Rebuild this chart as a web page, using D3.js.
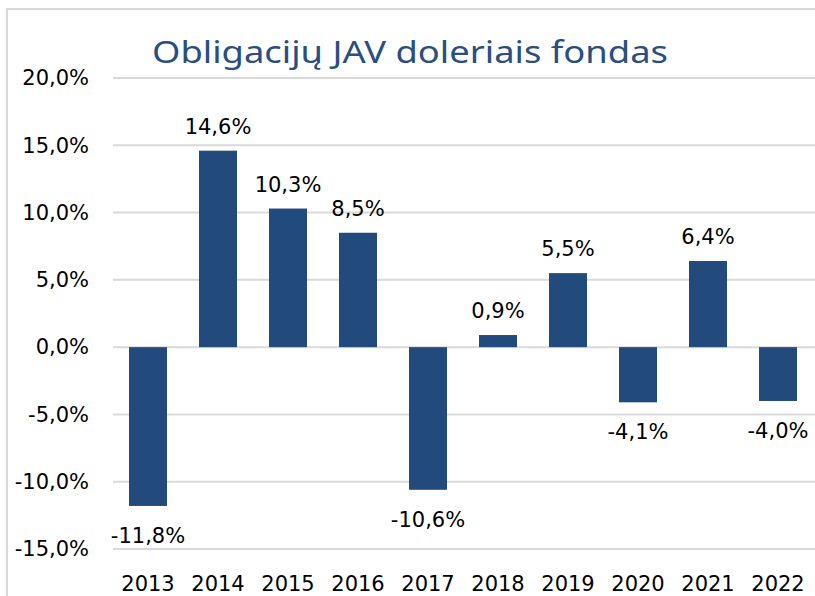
<!DOCTYPE html>
<html>
<head>
<meta charset="utf-8">
<script src="https://cdn.jsdelivr.net/npm/d3@7"></script>
<style>
  body { margin: 0; background: #fff; }
  svg { display: block; }
</style>
</head>
<body>
<script>
const w = 815, h = 596;

const years = ['2013','2014','2015','2016','2017','2018','2019','2020','2021','2022'];
const returns = [-11.8, 14.6, 10.3, 8.5, -10.6, 0.9, 5.5, -4.1, 6.4, -4.0];
const yTicks = [-15, -10, -5, 0, 5, 10, 15, 20];
const title = 'Obligacijų JAV doleriais fondas';

const fmt = (v) => v.toFixed(1).replace('.', ',') + '%';

const svg = d3.select('body').append('svg')
  .attr('width', w)
  .attr('height', h);

// frame of the chart area (only top and left are visible)
svg.append('rect')
  .attr('x', 7).attr('y', 9)
  .attr('width', w + 20).attr('height', h + 20)
  .attr('fill', 'none')
  .attr('stroke', '#d9d9d9')
  .attr('stroke-width', 2);

const x = d3.scaleBand()
  .domain(years)
  .range([113, 813])
  .paddingInner(0.457)
  .paddingOuter(0.2285);

const y = d3.scaleLinear()
  .domain([-15, 20])
  .range([549, 78]);

// gridlines
svg.append('g')
  .selectAll('line')
  .data(yTicks)
  .enter()
  .append('line')
  .attr('x1', 113).attr('x2', w)
  .attr('y1', (d) => y(d)).attr('y2', (d) => y(d))
  .attr('stroke', '#d9d9d9')
  .attr('stroke-width', 2);

// y axis labels
const yAxis = d3.axisLeft(y).tickValues(yTicks).tickFormat(fmt).tickSize(0).tickPadding(0);
svg.append('g')
  .attr('transform', 'translate(89,0)')
  .call(yAxis)
  .call((g) => g.select('.domain').remove())
  .selectAll('text')
  .attr('font-family', 'DejaVu Sans')
  .attr('font-size', '21px')
  .attr('fill', '#000');

// x axis labels
const xAxis = d3.axisBottom(x).tickSize(0).tickPadding(0);
svg.append('g')
  .attr('transform', 'translate(0,575)')
  .call(xAxis)
  .call((g) => g.select('.domain').remove())
  .selectAll('text')
  .attr('dy', '0.76em')
  .attr('font-family', 'DejaVu Sans')
  .attr('font-size', '21px')
  .attr('fill', '#000');

// bars
svg.append('g')
  .selectAll('rect')
  .data(returns)
  .enter()
  .append('rect')
  .attr('x', (d, i) => x(years[i]))
  .attr('y', (d) => y(Math.max(0, d)))
  .attr('width', x.bandwidth())
  .attr('height', (d) => Math.abs(y(d) - y(0)))
  .attr('fill', '#224A7C');

// value labels
svg.append('g')
  .selectAll('text')
  .data(returns)
  .enter()
  .append('text')
  .text(fmt)
  .attr('x', (d, i) => x(years[i]) + x.bandwidth() / 2)
  .attr('y', (d) => d >= 0 ? y(d) - 17 : y(d) + 37)
  .attr('text-anchor', 'middle')
  .attr('font-family', 'DejaVu Sans')
  .attr('font-size', '21px')
  .attr('fill', '#000');

// title
svg.append('text')
  .text(title)
  .attr('x', 410)
  .attr('y', 63)
  .attr('text-anchor', 'middle')
  .attr('font-family', 'Noto Sans')
  .attr('font-size', '30px')
  .attr('fill', '#2A4E80')
  .attr('textLength', 516)
  .attr('lengthAdjust', 'spacingAndGlyphs');
</script>
</body>
</html>
